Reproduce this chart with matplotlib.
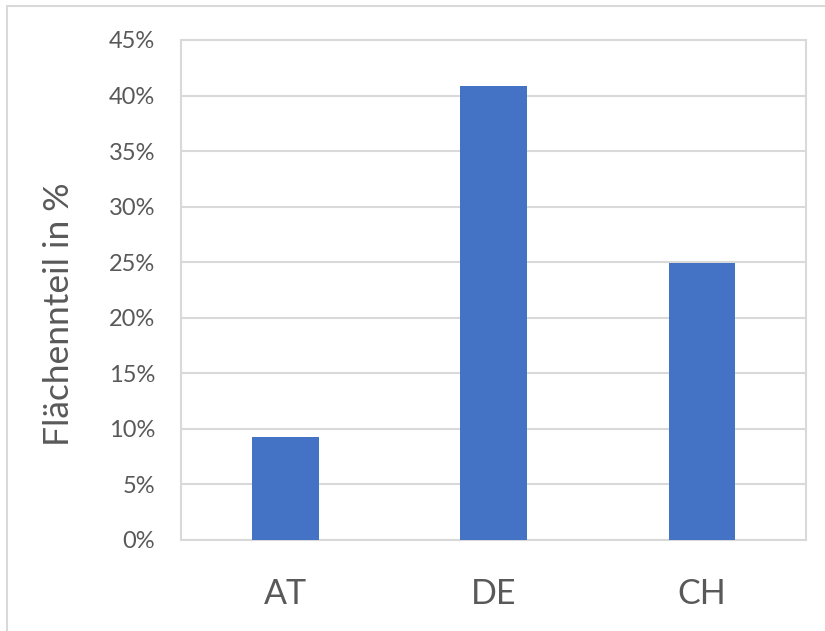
import matplotlib
matplotlib.use("Agg")
import matplotlib.pyplot as plt
from matplotlib.patches import Rectangle
from matplotlib.ticker import FuncFormatter, MultipleLocator

countries = ["AT", "DE", "CH"]
area_share = [9.3, 40.9, 24.9]  # percent

fig = plt.figure(figsize=(8.25, 6.31), dpi=100)
fig.patch.set_facecolor("white")

# outer chart frame (runs past right/bottom edge)
fig.add_artist(Rectangle((7 / 825, -0.1), 1.2, 1 - 6 / 631 + 0.1,
                         transform=fig.transFigure, fill=False,
                         edgecolor="#d9d9d9", linewidth=1.5))

ax = fig.add_axes([181 / 825, 1 - 540 / 631, (806 - 181) / 825, (540 - 40) / 631])
ax.bar(range(len(countries)), area_share, width=0.32, color="#4472C4", zorder=3)

ax.set_xlim(-0.5, 2.5)
ax.set_ylim(0, 45)
ax.yaxis.set_major_locator(MultipleLocator(5))
ax.yaxis.set_major_formatter(FuncFormatter(lambda v, p: f"{v:.0f}%"))
ax.set_xticks(range(len(countries)))
ax.set_xticklabels(countries)

ax.grid(axis="y", color="#d9d9d9", linewidth=1.5, zorder=0)
for s in ax.spines.values():
    s.set_color("#d9d9d9")
    s.set_linewidth(1.5)

ax.tick_params(axis="both", length=0, colors="#595959")
ax.tick_params(axis="y", labelsize=17, pad=18.5)
ax.tick_params(axis="x", labelsize=24.5, pad=27)
for lbl in ax.get_yticklabels() + ax.get_xticklabels():
    lbl.set_family("Lato")

fig.text(59 / 825, 1 - 314 / 631, "Flächennteil in %", rotation=90,
         ha="center", va="center", fontsize=25.5, color="#595959", family="Lato")

fig.savefig("out.png", dpi=100, facecolor="white")
